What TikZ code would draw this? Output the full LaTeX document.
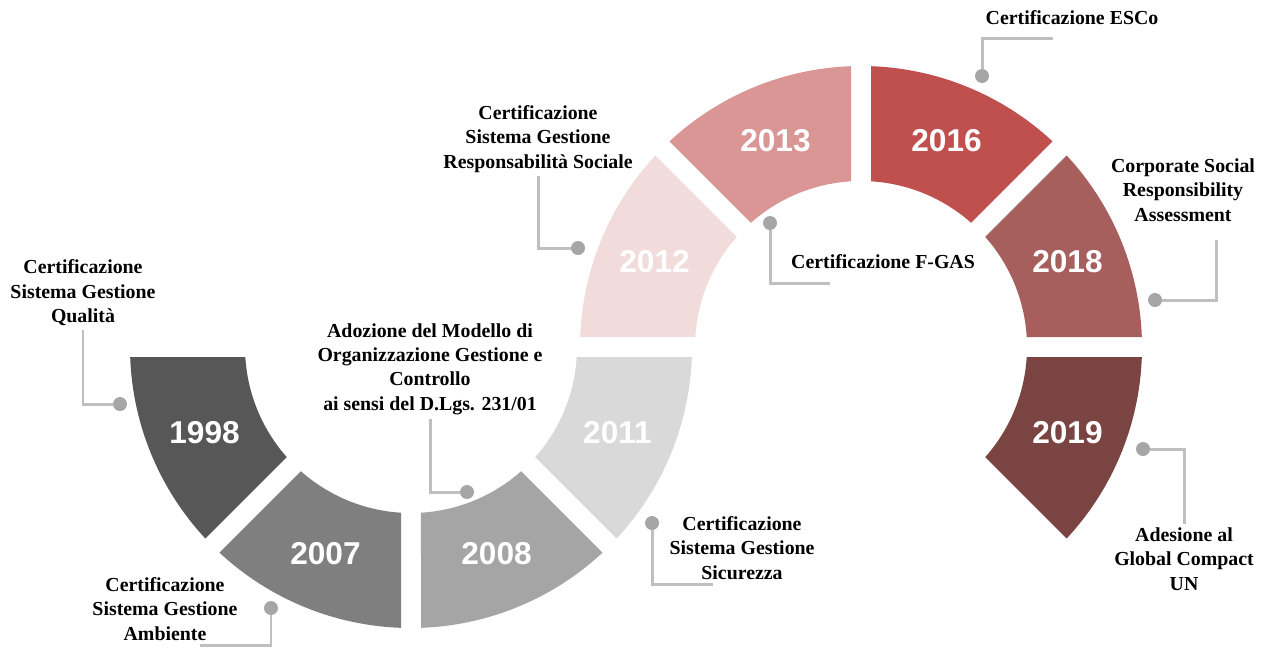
\documentclass[tikz,border=0pt]{standalone}
\usepackage{fontspec}
\setmainfont{Liberation Serif}
\setsansfont{Liberation Sans}
\usetikzlibrary{calc}
\definecolor{c1998}{HTML}{575757}
\definecolor{c2007}{HTML}{7F7F7F}
\definecolor{c2008}{HTML}{A5A5A5}
\definecolor{c2011}{HTML}{D9D9D9}
\definecolor{c2012}{HTML}{F2DCDB}
\definecolor{c2013}{HTML}{D99694}
\definecolor{c2016}{HTML}{C0504D}
\definecolor{c2018}{HTML}{A65F5C}
\definecolor{c2019}{HTML}{794442}
\definecolor{dotgray}{HTML}{A6A6A6}
\definecolor{linegray}{HTML}{BFBFBF}
\tikzset{
  yearlbl/.style={text=white,font=\sffamily\bfseries\fontsize{18}{20}\selectfont},
  note/.style={align=center,inner sep=2pt,font=\bfseries\fontsize{11.3}{13.9}\selectfont},
  dot/.style={circle,fill=dotgray,minimum size=0.28cm,inner sep=0pt},
  callout/.style={draw=linegray,line width=1.7pt}
}

\begin{document}
\begin{tikzpicture}[x=0.02cm,y=-0.02cm]
  \useasboundingbox (0,0) rectangle (1266,647);
  \coordinate (L) at (411,347);
  \coordinate (R) at (861,347);
  % ring segments and years
  \foreach \c/\a/\b/\yr in {L/135/180/1998, L/90/135/2007, L/45/90/2008, L/0/45/2011,
      R/180/225/2012, R/225/270/2013, R/270/315/2016, R/315/360/2018, R/360/405/2019}{
    \pgfmathsetmacro\ao{\a+2.04}
    \pgfmathsetmacro\bo{\b-2.04}
    \pgfmathsetmacro\ai{\a+3.45}
    \pgfmathsetmacro\bi{\b-3.45}
    \pgfmathsetmacro\am{(\a+\b)/2}
    \fill[c\yr] ($(\c)+(\ao:281)$) arc[start angle=\ao, end angle=\bo, radius=281]
      -- ($(\c)+(\bi:166)$) arc[start angle=\bi, end angle=\ai, radius=166] -- cycle;
    \node[yearlbl] (y\yr) at ($(\c)+(\am:223.5)$) {\yr};
  }
  % callouts
  \node[dot] (dQual) at (120,404) {};
  \node[note] (tQual) at (83,293) {Certificazione\\Sistema Gestione\\Qualità};
  \draw[callout] (dQual) -| (tQual);

  \node[dot] (dAmb) at (271,608) {};
  \node[note] (tAmb) at (165,609) {Certificazione\\Sistema Gestione\\Ambiente};
  \coordinate (eAmb) at (200,645);
  \draw[callout] (dAmb) |- (eAmb);

  \node[dot] (dMod) at (467,492) {};
  \node[note] (tMod) at (430,369) {Adozione del Modello di\\Organizzazione Gestione e\\Controllo\\ai sensi del D.Lgs. 231/01};
  \draw[callout] (dMod) -| (tMod);

  \node[dot] (dSic) at (652,523) {};
  \node[note] (tSic) at (742,548) {Certificazione\\Sistema Gestione\\Sicurezza};
  \coordinate (eSic) at (713,584);
  \draw[callout] (dSic) |- (eSic);

  \node[dot] (dSoc) at (578,248) {};
  \node[note] (tSoc) at (538,139) {Certificazione\\Sistema Gestione\\Responsabilità Sociale};
  \draw[callout] (dSoc) -| (tSoc);

  \node[dot] (dGas) at (770,223) {};
  \node[note] (tGas) at (883,262) {Certificazione F-GAS};
  \coordinate (eGas) at (830,283);
  \draw[callout] (dGas) |- (eGas);

  \node[dot] (dEsc) at (982,76) {};
  \node[note] (tEsc) at (1072,18) {Certificazione ESCo};
  \coordinate (eEsc) at (1053,38);
  \draw[callout] (dEsc) |- (eEsc);

  \node[dot] (dCsr) at (1155,300) {};
  \node[note] (tCsr) at (1183,190) {Corporate Social\\Responsibility\\Assessment};
  \coordinate (eCsr) at (1216,240);
  \draw[callout] (dCsr) -| (eCsr);

  \node[dot] (dGlo) at (1143,449) {};
  \node[note] (tGlo) at (1184,559) {Adesione al\\Global Compact\\UN};
  \draw[callout] (dGlo) -| (tGlo);
\end{tikzpicture}
\end{document}
